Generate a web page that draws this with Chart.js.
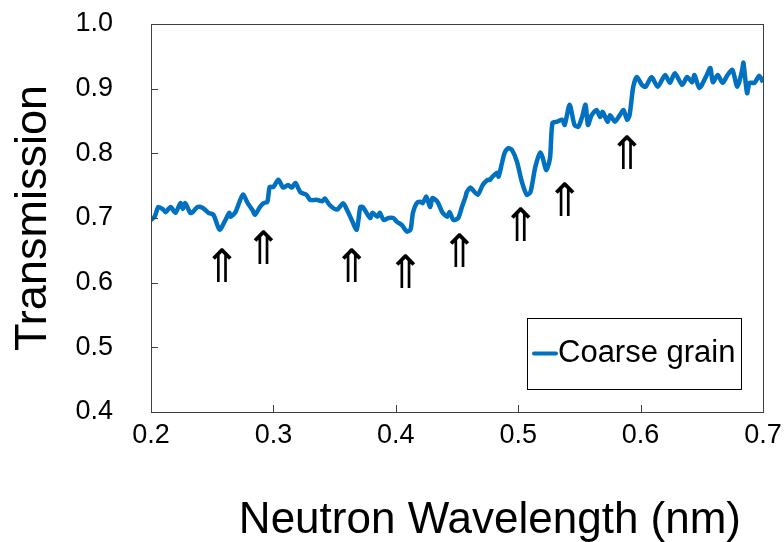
<!DOCTYPE html>
<html>
<head>
<meta charset="utf-8">
<script src="https://cdn.jsdelivr.net/npm/chart.js@4.4.1/dist/chart.umd.min.js"></script>
<style>
  html, body { margin: 0; padding: 0; background: #fff; }
  #wrap { width: 784px; height: 542px; }
</style>
</head>
<body>
<div id="wrap"><canvas id="chart" width="784" height="542"></canvas></div>
<script>
// neutron wavelength (nm) and transmission
const wavelength = [
  0.200, 0.203, 0.206, 0.210, 0.212, 0.216, 0.220, 0.224, 0.226, 0.228,
  0.232, 0.234, 0.238, 0.242, 0.247, 0.251, 0.256, 0.260, 0.264, 0.265,
  0.269, 0.275, 0.279, 0.283, 0.285, 0.289, 0.292, 0.295, 0.297, 0.300,
  0.304, 0.308, 0.312, 0.315, 0.318, 0.322, 0.327, 0.330, 0.336, 0.340,
  0.342, 0.346, 0.352, 0.357, 0.360, 0.364, 0.368, 0.371, 0.373, 0.379,
  0.381, 0.385, 0.387, 0.390, 0.394, 0.398, 0.401, 0.405, 0.409, 0.412,
  0.414, 0.417, 0.420, 0.422, 0.425, 0.428, 0.430, 0.434, 0.438, 0.442,
  0.444, 0.447, 0.451, 0.454, 0.457, 0.458, 0.461, 0.463, 0.467, 0.471,
  0.475, 0.477, 0.479, 0.483, 0.484, 0.487, 0.489, 0.492, 0.495, 0.499,
  0.503, 0.507, 0.510, 0.514, 0.518, 0.520, 0.523, 0.526, 0.528, 0.532,
  0.536, 0.538, 0.542, 0.546, 0.549, 0.552, 0.555, 0.557, 0.560, 0.564,
  0.567, 0.569, 0.573, 0.575, 0.579, 0.583, 0.586, 0.589, 0.591, 0.594,
  0.597, 0.601, 0.604, 0.609, 0.614, 0.620, 0.624, 0.628, 0.634, 0.638,
  0.642, 0.644, 0.648, 0.653, 0.657, 0.659, 0.663, 0.667, 0.671, 0.675,
  0.679, 0.683, 0.684, 0.687, 0.689, 0.693, 0.697, 0.700
];
const transmission = [
  0.697, 0.702, 0.717, 0.713, 0.709, 0.717, 0.708, 0.723, 0.714, 0.723,
  0.708, 0.709, 0.717, 0.716, 0.708, 0.705, 0.682, 0.694, 0.708, 0.702,
  0.709, 0.736, 0.723, 0.712, 0.705, 0.717, 0.723, 0.725, 0.748, 0.748,
  0.759, 0.747, 0.751, 0.747, 0.754, 0.740, 0.736, 0.728, 0.728, 0.726,
  0.730, 0.720, 0.713, 0.723, 0.713, 0.697, 0.682, 0.717, 0.717, 0.700,
  0.708, 0.702, 0.708, 0.697, 0.700, 0.700, 0.694, 0.689, 0.679, 0.682,
  0.708, 0.723, 0.725, 0.723, 0.733, 0.717, 0.731, 0.725, 0.709, 0.702,
  0.709, 0.697, 0.700, 0.717, 0.733, 0.740, 0.747, 0.743, 0.736, 0.751,
  0.759, 0.759, 0.764, 0.770, 0.764, 0.787, 0.801, 0.808, 0.805, 0.787,
  0.756, 0.736, 0.740, 0.779, 0.801, 0.793, 0.774, 0.793, 0.847, 0.849,
  0.852, 0.844, 0.875, 0.844, 0.841, 0.855, 0.875, 0.844, 0.859, 0.867,
  0.856, 0.864, 0.849, 0.859, 0.849, 0.859, 0.867, 0.852, 0.859, 0.903,
  0.918, 0.906, 0.903, 0.918, 0.903, 0.921, 0.909, 0.924, 0.906, 0.918,
  0.910, 0.921, 0.901, 0.917, 0.932, 0.910, 0.921, 0.909, 0.921, 0.929,
  0.903, 0.929, 0.940, 0.893, 0.909, 0.909, 0.920, 0.910
];

// where the ⇑ markers sit (data units)
const arrowX = [0.258, 0.292, 0.364, 0.408, 0.452, 0.502, 0.538, 0.589];
const arrowY = [0.627, 0.655, 0.627, 0.618, 0.651, 0.690, 0.729, 0.802];

const xMin = 0.2, xMax = 0.7, xStep = 0.1;
const yMin = 0.4, yMax = 1.0, yStep = 0.1;

const FONT = '"Liberation Sans", Arial, sans-serif';
const AXIS = '#404040';
const BLUE = '#0070C0';

// box around the plot + short inside tick marks (Excel style)
const frame = {
  id: 'frame',
  afterDraw(chart) {
    const {ctx, chartArea: a, scales: {x, y}} = chart;
    ctx.save();
    ctx.strokeStyle = AXIS;
    ctx.lineWidth = 1;
    ctx.strokeRect(a.left + 0.5, a.top + 0.5, a.right - a.left, a.bottom - a.top);
    ctx.beginPath();
    y.ticks.forEach(t => {
      const py = Math.round(y.getPixelForValue(t.value)) + 0.5;
      ctx.moveTo(a.left, py);
      ctx.lineTo(a.left + 7, py);
    });
    x.ticks.forEach(t => {
      const px = Math.round(x.getPixelForValue(t.value)) + 0.5;
      ctx.moveTo(px, a.bottom);
      ctx.lineTo(px, a.bottom - 7);
    });
    ctx.stroke();
    ctx.restore();
  }
};

const arrows = {
  id: 'arrows',
  afterDatasetsDraw(chart) {
    const {ctx, scales: {x, y}} = chart;
    ctx.save();
    ctx.fillStyle = '#000';
    ctx.font = '46px "DejaVu Sans"';
    ctx.textAlign = 'center';
    ctx.textBaseline = 'middle';
    arrowX.forEach((v, i) => {
      // glyph sits a little high with 'middle', nudge it down
      ctx.fillText('\u21D1', x.getPixelForValue(v), y.getPixelForValue(arrowY[i]) + 5);
    });
    ctx.restore();
  }
};

const legendBox = {
  id: 'legendBox',
  afterDraw(chart) {
    const {ctx, chartArea: a} = chart;
    const ds = chart.data.datasets[0];
    const w = 214, h = 71;
    const left = a.right - 22 - w, top = a.bottom - 23 - h;
    ctx.save();
    ctx.fillStyle = '#fff';
    ctx.fillRect(left, top, w, h);
    ctx.strokeStyle = '#000';
    ctx.lineWidth = 1;
    ctx.strokeRect(left + 0.5, top + 0.5, w, h);
    const cy = top + h / 2;
    ctx.strokeStyle = ds.borderColor;
    ctx.lineWidth = 4;
    ctx.lineCap = 'round';
    ctx.beginPath();
    ctx.moveTo(left + 7, cy);
    ctx.lineTo(left + 29, cy);
    ctx.stroke();
    ctx.fillStyle = '#000';
    ctx.font = '31px ' + FONT;
    ctx.textAlign = 'left';
    ctx.textBaseline = 'middle';
    ctx.fillText(ds.label, left + 31, cy);
    ctx.restore();
  }
};

const xTitle = {
  id: 'xTitle',
  afterDraw(chart) {
    const {ctx} = chart;
    ctx.save();
    ctx.fillStyle = '#000';
    ctx.font = '44px ' + FONT;
    ctx.textAlign = 'right';
    ctx.textBaseline = 'alphabetic';
    ctx.fillText('Neutron Wavelength (nm)', 741, 533);
    ctx.restore();
  }
};

new Chart(document.getElementById('chart').getContext('2d'), {
  type: 'line',
  data: {
    datasets: [{
      label: 'Coarse grain',
      data: wavelength.map((w, i) => ({x: w, y: transmission[i]})),
      borderColor: BLUE,
      borderWidth: 4.5,
      pointRadius: 0,
      tension: 0.25,
      fill: false
    }]
  },
  options: {
    responsive: false,
    animation: false,
    devicePixelRatio: 1,
    layout: { padding: { left: 0, right: 21, top: 24, bottom: 0 } },
    plugins: { legend: { display: false }, tooltip: { enabled: false } },
    scales: {
      x: {
        type: 'linear',
        min: xMin, max: xMax,
        afterFit: s => { s.height = 130; s.paddingLeft = 0; s.paddingRight = 0; },
        grid: { display: false, drawTicks: false },
        border: { display: true, color: AXIS },
        ticks: {
          stepSize: xStep,
          padding: 7,
          color: '#000',
          font: { family: FONT, size: 27 },
          maxRotation: 0,
          callback: v => v.toFixed(1)
        }
      },
      y: {
        min: yMin, max: yMax,
        afterFit: s => { s.width = 151; s.paddingTop = 0; s.paddingBottom = 0; },
        grid: { display: false, drawTicks: false },
        border: { display: true, color: AXIS },
        title: {
          display: true,
          text: 'Transmission',
          color: '#000',
          font: { family: FONT, size: 45 },
          padding: { top: 7, bottom: 0 }
        },
        ticks: {
          stepSize: yStep,
          padding: 38,
          color: '#000',
          font: { family: FONT, size: 27 },
          callback: v => v.toFixed(1)
        }
      }
    }
  },
  plugins: [frame, arrows, legendBox, xTitle]
});
</script>
</body>
</html>
